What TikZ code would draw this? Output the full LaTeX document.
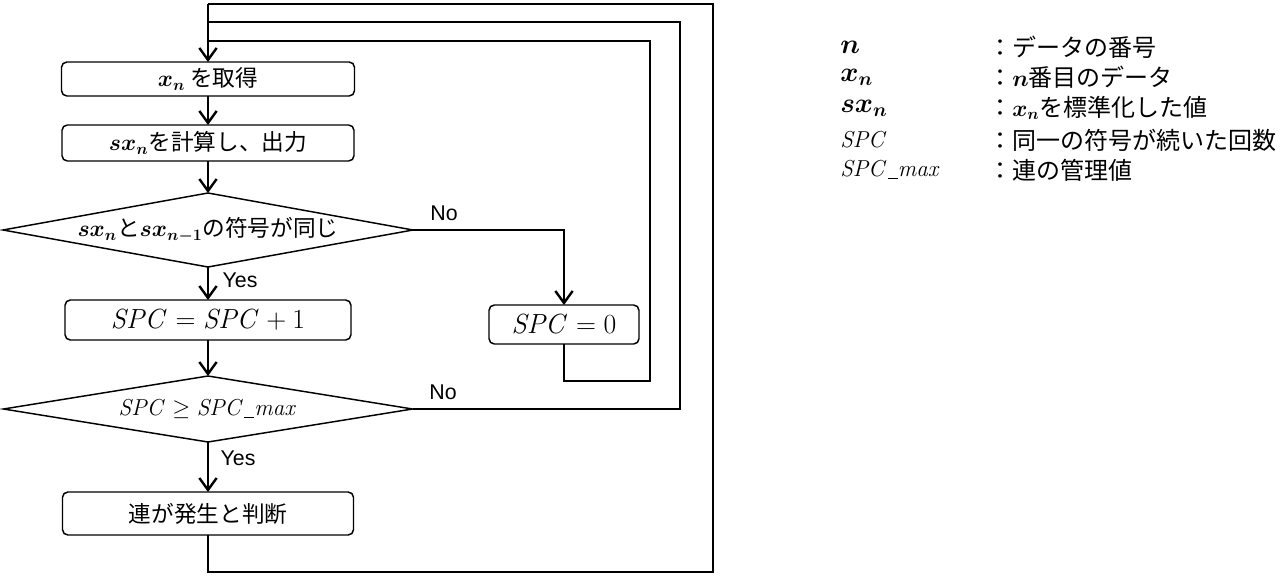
\documentclass[tikz,border=0pt]{standalone}
\usepackage{amsmath,amssymb,bm}
\usepackage[no-math]{fontspec}
\setmainfont{Noto Sans CJK JP}
\newfontfamily\lat{Liberation Sans}
\usetikzlibrary{shapes.geometric,arrows.meta}
\newcommand{\usc}{\mbox{\rule[-0.12em]{0.42em}{0.055em}}}
\tikzset{
  every node/.style={font=\fontsize{17}{20}\selectfont},
  box/.style={draw, rounded corners=4pt, line width=1.1pt, inner sep=0pt, outer sep=0pt},
  dia/.style={draw, diamond, line width=1.1pt, inner sep=0pt, outer sep=0pt},
  link/.style={line width=1.8pt},
  arr/.style={link, -{Straight Barb[length=9pt,width=13pt]}},
  yn/.style={font=\lat\fontsize{16}{19}\selectfont, inner sep=0pt},
  leg/.style={anchor=west, inner sep=0pt, font=\fontsize{18}{21}\selectfont},
  mth/.style={font=\fontsize{19.5}{22}\selectfont},
  mths/.style={font=\fontsize{18}{21}\selectfont},
}
\begin{document}
\begin{tikzpicture}[x=0.75pt,y=-0.75pt]
\useasboundingbox (0,0) rectangle (1284,578);
% nodes
\node[box, minimum width=219.75pt, minimum height=25.5pt] (box1) at (208,79) {$\bm{x_n}$ を取得};
\node[box, minimum width=219pt, minimum height=27pt] (box2) at (208,143) {$\bm{sx_n}$を計算し、出力};
\node[dia, minimum width=307.5pt, minimum height=55.5pt,
      label={center:$\bm{sx_n}$と$\bm{sx_{n-1}}$の符号が同じ}] (d1) at (208,230) {};
\node[box, mth, minimum width=214.5pt, minimum height=30pt] (spc1) at (208,320) {$\mathit{SPC} = \mathit{SPC} + 1$};
\node[box, mth, minimum width=112.5pt, minimum height=29.25pt] (s0) at (564,324.5) {$\mathit{SPC} = 0$};
\node[dia, minimum width=306.75pt, minimum height=49.5pt,
      label={[mths]center:$\mathit{SPC} \geq \mathit{SPC}\usc\mathit{max}$}] (d2) at (208,409) {};
\node[box, minimum width=218.25pt, minimum height=32.25pt] (last) at (208,513.5) {連が発生と判断};
% labels
\node[yn] (no1) at (444,213) {No};
\node[yn] (yes1) at (240,280) {Yes};
\node[yn] (no2) at (443,392) {No};
\node[yn] (yes2) at (238,458) {Yes};
% loop coordinates
\coordinate (c1) at (713,572);
\coordinate (c2) at (713,4);
\coordinate (m1) at (680,409);
\coordinate (m2) at (680,22);
\coordinate (i1) at (650,381);
\coordinate (i2) at (650,41);
% connectors
\draw[arr] (box1) -- (box2);
\draw[arr] (box2) -- (d1);
\draw[arr] (d1) -- (spc1);
\draw[arr] (spc1) -- (d2);
\draw[arr] (d2) -- (last);
\draw[arr] (d1.east) -| (s0.north);
\draw[link] (last.south) -- (last.south |- c1) -- (c1) -- (c2) -- (c2 -| box1.north);
\draw[arr] (c2 -| box1.north) -- (box1.north);
\draw[link] (d2.east) -- (m1) -- (m2) -- (m2 -| box1.north);
\draw[link] (s0.south) -- (s0.south |- i1) -- (i1) -- (i2) -- (i2 -| box1.north);
% legend
\node[leg, mth] (k1) at (840,47) {$\bm{n}$};
\node[leg, mth] (k2) at (840,77) {$\bm{x_n}$};
\node[leg, mth] (k3) at (840,108) {$\bm{sx_n}$};
\node[leg, mths] (k4) at (840,140) {$\mathit{SPC}$};
\node[leg, mths] (k5) at (840,170) {$\mathit{SPC}\usc\mathit{max}$};
\node[leg] (v1) at (988,47) {：データの番号};
\node[leg] (v2) at (988,77) {：$\bm{n}$番目のデータ};
\node[leg] (v3) at (988,108) {：$\bm{x_n}$を標準化した値};
\node[leg] (v4) at (988,140) {：同一の符号が続いた回数};
\node[leg] (v5) at (988,170) {：連の管理値};
\end{tikzpicture}
\end{document}
